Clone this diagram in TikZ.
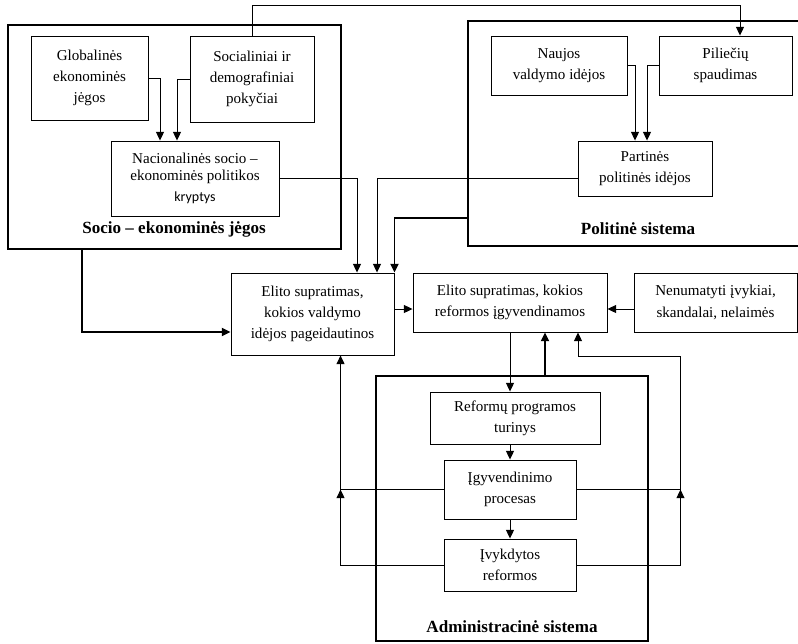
\documentclass[tikz,border=0pt]{standalone}
\usepackage{fontspec}
\setmainfont{Liberation Serif}
\newfontfamily\calfont{Carlito}
\usetikzlibrary{arrows.meta}
\usetikzlibrary{calc}
\tikzset{box/.style = {draw, line width = 0.7pt, align = center, inner sep = 0, font = \fontsize{11.3}{16}\selectfont}}
\tikzset{frame/.style = {draw, line width = 1.9pt, inner sep = 0}}
\tikzset{lbl/.style = {font = \fontsize{12.8}{15}\selectfont\bfseries}}
\tikzset{arr/.style = {line width = 0.7pt, -{Triangle[length = 6.5pt, width = 6pt]}}}
\tikzset{tarr/.style = {arr, line width = 1.4pt}}

\begin{document}
\begin{tikzpicture}[x = 0.75pt, y = -0.75pt]

      \useasboundingbox (0, 0) rectangle (798, 643);

      \node [frame, minimum width = 249.75pt, minimum height = 168pt] (socio) at (174.5, 137) {};
      \node [frame, minimum width = 253.5pt, minimum height = 168.75pt] (polit) at (637, 133.5) {};
      \node [frame, minimum width = 204pt, minimum height = 198.75pt] (admin) at (512, 508.5) {};

      \node [box, minimum width = 87.75pt, minimum height = 63pt] (glob) at (89.5, 78) {Globalinės\\ekonominės\\jėgos};
      \node [box, minimum width = 93pt, minimum height = 64.5pt] (soc) at (252, 79) {Socialiniai ir\\demografiniai\\pokyčiai};
      \node [box, minimum width = 126pt, minimum height = 56.25pt] (nac) at (195, 178.5) {Nacionalinės socio –\\[-3pt]ekonominės politikos\\{\calfont\fontsize{10.5}{16}\selectfont kryptys}};
      \node [box, minimum width = 102pt, minimum height = 44.25pt] (nauj) at (559, 65.5) {Naujos\\valdymo idėjos};
      \node [box, minimum width = 99.75pt, minimum height = 44.25pt] (pil) at (725.5, 65.5) {Piliečių\\spaudimas};
      \node [box, minimum width = 100.5pt, minimum height = 41.25pt] (part) at (645, 168.5) {Partinės\\politinės idėjos};
      \node [box, minimum width = 122.25pt, minimum height = 61.5pt] (elito1) at (312.5, 314) {Elito supratimas,\\kokios valdymo\\idėjos pageidautinos};
      \node [box, minimum width = 145.5pt, minimum height = 44.25pt] (elito2) at (510, 302.5) {Elito supratimas, kokios\\reformos įgyvendinamos};
      \node [box, minimum width = 122.25pt, minimum height = 44.25pt] (nen) at (715.5, 302.5) {Nenumatyti įvykiai,\\skandalai, nelaimės};
      \node [box, minimum width = 127.5pt, minimum height = 39pt] (reform) at (515, 418) {Reformų programos\\turinys};
      \node [box, minimum width = 99pt, minimum height = 44.25pt] (igyv) at (510, 489.5) {Įgyvendinimo\\procesas};
      \node [box, minimum width = 99pt, minimum height = 39pt] (ivykd) at (510, 565) {Įvykdytos\\reformos};

      \node [lbl] (sociolbl) at (174, 229) {Socio – ekonominės jėgos};
      \node [lbl] (politlbl) at (638, 229) {Politinė sistema};
      \node [lbl] (adminlbl) at (512, 627) {Administracinė sistema};

      \draw [arr] (glob.east) -| ($(nac.north) + (-35, 0)$);
      \draw [arr] (soc.west) -| ($(nac.north) + (-18, 0)$);
      \draw [arr] (soc.north) -- ++(0, -30) -| ($(pil.north) + (14.5, 0)$);
      \draw [arr] (nauj.east) -| ($(part.north) + (-10, 0)$);
      \draw [arr] (pil.west) -| ($(part.north) + (2, 0)$);
      \draw [arr] (nac.east) -| ($(elito1.north) + (44.5, 0)$);
      \draw [arr] ($(part.west) + (0, 9.5)$) -| ($(elito1.north) + (64.5, 0)$);
      \draw [tarr] ($(polit.south west) + (0, -29)$) -| (elito1.north east);
      \draw [tarr] ($(socio.south west) + (75, 0)$) |- ($(elito1.west) + (0, 18)$);

      \coordinate (e12) at ($(elito2.west) + (0, 6.5)$);
      \draw [arr] (elito1.east |- e12) -- (e12);
      \draw [arr] ($(nen.west) + (0, 6.5)$) -- ($(elito2.east) + (0, 6.5)$);

      \draw [arr] (elito2.south) -- (elito2.south |- reform.north);
      \draw [arr] (reform.south -| igyv) -- (igyv.north);
      \draw [arr] (igyv.south) -- (ivykd.north);
      \coordinate (fb) at ($(elito2.south) + (35, 0)$);
      \draw [tarr] (fb |- admin.north) -- (fb);

      \coordinate (rr) at ($(igyv.east) + (104, 0)$);
      \coordinate (rt) at ($(elito2.south) + (68, 0)$);
      \draw [arr] (ivykd.east) -| (rr);
      \draw [arr] (igyv.east) -- (rr) |- ($(rt) + (0, 24)$) -- (rt);
      \coordinate (ll) at ($(igyv.west) + (-103, 0)$);
      \draw [arr] (ivykd.west) -| (ll);
      \draw [arr] (igyv.west) -- (ll) -- (ll |- elito1.south);
    \end{tikzpicture}
\end{document}
